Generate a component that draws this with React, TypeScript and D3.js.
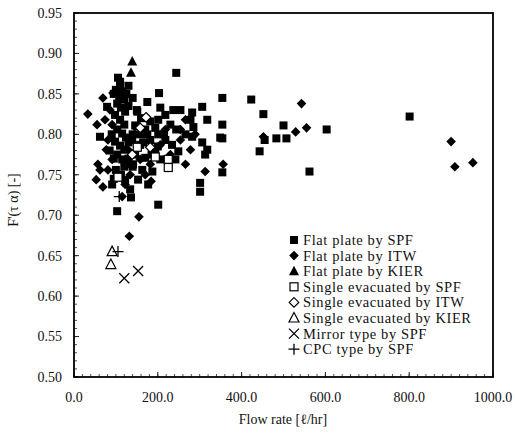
import React from "react";
import * as d3 from "d3";

// ---- data ----
const flatSPF_x = [244,354,423,452,354,500,354,455,483,507,603,443,562,801,354,203,175,206,237,282,306,318,285,282,306,318,313,349,249,301,301,201,103,62,79,136,151,
  105,110,100,115,108,120,103,112,122,98,110,120,103,115,124,98,110,120,103,115,124,100,112,122,91,
  160,182,146,170,194,139,158,182,201,146,170,194,141,163,187,153,177,134,218,201,230,244,218,234,206,242,266,278,254,
  110,95,130,125,90,85,95,130,140,150,160,130,140,120,110,95,175,185,165,200,215,150,130,140];
const flatSPF_y = [0.876,0.845,0.843,0.825,0.812,0.811,0.795,0.793,0.795,0.795,0.806,0.779,0.754,0.822,0.753,0.851,0.840,0.833,0.830,0.827,0.834,0.818,0.809,0.797,0.790,0.781,0.775,0.796,0.779,0.740,0.729,0.713,0.705,0.797,0.834,0.722,0.828,
  0.870,0.861,0.855,0.853,0.846,0.843,0.838,0.833,0.828,0.824,0.818,0.812,0.806,0.801,0.796,0.791,0.786,0.781,0.775,0.769,0.763,0.756,0.750,0.744,0.738,
  0.820,0.816,0.811,0.806,0.808,0.793,0.787,0.793,0.800,0.775,0.771,0.781,0.763,0.756,0.754,0.744,0.738,0.732,0.824,0.818,0.812,0.806,0.793,0.787,0.769,0.769,0.800,0.818,0.830,
  0.865,0.850,0.860,0.850,0.800,0.780,0.770,0.790,0.800,0.810,0.800,0.770,0.760,0.760,0.750,0.745,0.800,0.775,0.790,0.785,0.800,0.830,0.835,0.845];

const flatITW_x = [33,69,69,184,155,132,254,313,356,115,543,529,555,452,900,909,952,
  86,91,81,77,91,81,98,129,146,158,182,170,206,218,230,266,278,266,289,254,134,122,62,53,74,93,57,55];
const flatITW_y = [0.825,0.845,0.735,0.742,0.698,0.674,0.806,0.754,0.763,0.723,0.838,0.803,0.808,0.797,0.791,0.760,0.765,
  0.830,0.812,0.793,0.781,0.769,0.756,0.747,0.781,0.800,0.769,0.763,0.750,0.787,0.806,0.775,0.763,0.781,0.818,0.800,0.793,0.750,0.738,0.756,0.744,0.818,0.851,0.763,0.812];

const flatKIER_x = [139,136];
const flatKIER_y = [0.890,0.876];

const evacSPF_x = [105,225,225,151,194];
const evacSPF_y = [0.747,0.769,0.759,0.784,0.772];

const evacITW_x = [158,172,139,182];
const evacITW_y = [0.808,0.821,0.775,0.784];

const evacKIER_x = [91,88];
const evacKIER_y = [0.655,0.639];

const mirrorSPF_x = [120,153];
const mirrorSPF_y = [0.622,0.631];

const cpcSPF_x = [105,108];
const cpcSPF_y = [0.655,0.723];

const xTicks = [0, 200, 400, 600, 800, 1000];
const yTicks = [0.5, 0.55, 0.6, 0.65, 0.7, 0.75, 0.8, 0.85, 0.9, 0.95];

const legendLabels = [
  "Flat plate by SPF",
  "Flat plate by ITW",
  "Flat plate by KIER",
  "Single evacuated by SPF",
  "Single evacuated by ITW",
  "Single evacuated by KIER",
  "Mirror type by SPF",
  "CPC type by SPF",
];
const legendKinds = ["sq", "di", "tri", "osq", "odi", "otri", "x", "plus"];

const FONT = "'Liberation Serif', 'Times New Roman', serif";

function Marker({ kind, x, y }: { kind: string; x: number; y: number }) {
  const s = 4;
  const d = 4.8;
  switch (kind) {
    case "sq":
      return <rect x={x - s} y={y - s} width={2 * s} height={2 * s} fill="#000" />;
    case "osq":
      return <rect x={x - s} y={y - s} width={2 * s} height={2 * s} fill="#fff" stroke="#000" strokeWidth={1.2} />;
    case "di":
      return <path d={`M${x},${y - d}L${x + d},${y}L${x},${y + d}L${x - d},${y}Z`} fill="#000" />;
    case "odi":
      return <path d={`M${x},${y - d}L${x + d},${y}L${x},${y + d}L${x - d},${y}Z`} fill="#fff" stroke="#000" strokeWidth={1.2} />;
    case "tri":
      return <path d={`M${x},${y - 5.5}L${x + 5},${y + 4}L${x - 5},${y + 4}Z`} fill="#000" />;
    case "otri":
      return <path d={`M${x},${y - 5.5}L${x + 5},${y + 4}L${x - 5},${y + 4}Z`} fill="none" stroke="#000" strokeWidth={1.2} />;
    case "x":
      return <path d={`M${x - 5},${y - 5}L${x + 5},${y + 5}M${x + 5},${y - 5}L${x - 5},${y + 5}`} stroke="#000" strokeWidth={1.3} />;
    case "plus":
      return <path d={`M${x - 5.5},${y}L${x + 5.5},${y}M${x},${y - 5.5}L${x},${y + 5.5}`} stroke="#000" strokeWidth={1.3} />;
  }
  return null;
}

export default function App() {
  const W = 515, H = 446;
  const left = 74, right = 493, top = 13, bottom = 377;
  const x = d3.scaleLinear().domain([0, 1000]).range([left, right]);
  const y = d3.scaleLinear().domain([0.5, 0.95]).range([bottom, top]);

  const series: [string, number[], number[]][] = [
    ["sq", flatSPF_x, flatSPF_y],
    ["di", flatITW_x, flatITW_y],
    ["osq", evacSPF_x, evacSPF_y],
    ["odi", evacITW_x, evacITW_y],
    ["tri", flatKIER_x, flatKIER_y],
    ["otri", evacKIER_x, evacKIER_y],
    ["x", mirrorSPF_x, mirrorSPF_y],
    ["plus", cpcSPF_x, cpcSPF_y],
  ];

  const yMinor = d3.range(0.5, 0.9501, 0.01);
  const xMinor = d3.range(0, 1000.1, 20);

  return (
    <svg width={W} height={H} style={{ position: "absolute", left: 0, top: 0, background: "#fff" }} fontFamily={FONT}>
      <rect x={0} y={0} width={W} height={H} fill="#fff" />
      {yMinor.map((v, i) => (
        <line key={"ym" + i} x1={left} x2={left + 3} y1={y(v)} y2={y(v)} stroke="#222" strokeWidth={0.8} />
      ))}
      {yTicks.map((v, i) => (
        <line key={"yM" + i} x1={left} x2={left + 5} y1={y(v)} y2={y(v)} stroke="#222" strokeWidth={1} />
      ))}
      {xMinor.map((v, i) => (
        <line key={"xm" + i} x1={x(v)} x2={x(v)} y1={bottom} y2={bottom - 3} stroke="#222" strokeWidth={0.8} />
      ))}
      {xTicks.map((v, i) => (
        <line key={"xM" + i} x1={x(v)} x2={x(v)} y1={bottom} y2={bottom - 5} stroke="#222" strokeWidth={1} />
      ))}
      <rect x={left} y={top} width={right - left} height={bottom - top} fill="none" stroke="#000" strokeWidth={1.8} />

      {yTicks.map((v, i) => (
        <text key={"yl" + i} x={62} y={y(v)} dy="0.35em" textAnchor="end" fontSize={14} fill="#111">
          {v.toFixed(2)}
        </text>
      ))}
      {xTicks.map((v, i) => (
        <text key={"xl" + i} x={x(v)} y={402} textAnchor="middle" fontSize={14} fill="#111">
          {v.toFixed(1)}
        </text>
      ))}
      <text x={283} y={424} textAnchor="middle" fontSize={14} fill="#111">Flow rate [ℓ/hr]</text>
      <text transform="translate(18,200) rotate(-90)" textAnchor="middle" fontSize={14} fill="#111">F'(τ α) [-]</text>

      {series.map(([kind, xs, ys]) =>
        xs.map((xv, i) => <Marker key={kind + i} kind={kind} x={x(xv)} y={y(ys[i])} />)
      )}

      {legendLabels.map((lab, i) => {
        const ly = 240 + i * 15.6;
        return (
          <g key={"lg" + i}>
            <Marker kind={legendKinds[i]} x={294} y={ly} />
            <text x={303} y={ly} dy="0.35em" fontSize={14.5} letterSpacing={0.6} fill="#111">{lab}</text>
          </g>
        );
      })}
    </svg>
  );
}
